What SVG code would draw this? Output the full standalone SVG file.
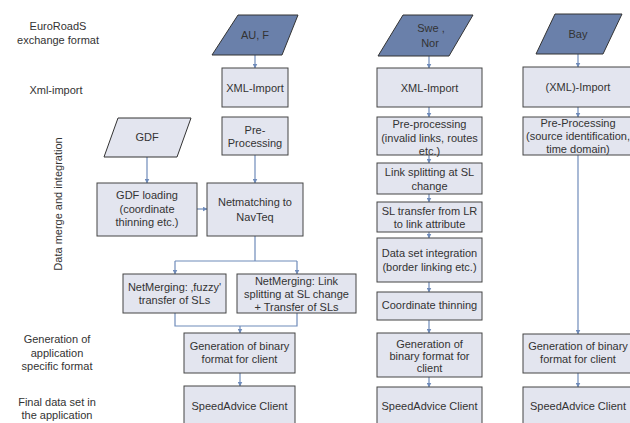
<svg xmlns="http://www.w3.org/2000/svg" width="630" height="423" viewBox="0 0 630 423">
<defs>
<marker id="ah" viewBox="0 0 10 10" refX="9" refY="5" markerWidth="5" markerHeight="5" orient="auto" markerUnits="userSpaceOnUse">
<path d="M0,0 L10,5 L0,10 z" fill="#6f8bba"/>
</marker>
<style>
text{font-family:"Liberation Sans",Arial,sans-serif;font-size:11px;fill:#333;text-anchor:middle;dominant-baseline:central}
.box{fill:#e3e5ef;stroke:#444;stroke-width:1}
.para{fill:#6a80aa;stroke:#333;stroke-width:1}
.lbl{fill:#333}
#connectors path,#connectors line{stroke:#6f8bba;stroke-width:1.2;fill:none}
.arr{marker-end:url(#ah)}
</style>
</defs>
<rect width="630" height="423" fill="#fff"/>

<g id="labels">
<text x="58" y="26">EuroRoadS</text>
<text x="58" y="40">exchange format</text>
<text x="56" y="90">Xml-import</text>
<text transform="translate(58,204) rotate(-90)">Data merge and integration</text>
<text x="57" y="339">Generation of</text>
<text x="57" y="353">application</text>
<text x="57" y="366">specific format</text>
<text x="57" y="402">Final data set in</text>
<text x="57" y="415">the application</text>
</g>

<g id="connectors">
<line class="arr" x1="255" y1="55" x2="255" y2="68"/>
<line class="arr" x1="255" y1="155" x2="255" y2="183"/>
<line class="arr" x1="147" y1="157" x2="147" y2="183"/>
<line class="arr" x1="197" y1="209" x2="207" y2="209"/>
<path d="M255,236 V261 M175,261 H297"/>
<line class="arr" x1="175" y1="261" x2="175" y2="274"/>
<line class="arr" x1="297" y1="261" x2="297" y2="274"/>
<path d="M175,313 V326 H297 V313"/>
<line class="arr" x1="240" y1="326" x2="240" y2="333"/>
<line class="arr" x1="240" y1="373" x2="240" y2="386"/>

<line class="arr" x1="429" y1="56" x2="429" y2="68"/>
<line class="arr" x1="429" y1="107" x2="429" y2="117"/>
<line class="arr" x1="429" y1="155" x2="429" y2="163"/>
<line class="arr" x1="429" y1="194" x2="429" y2="202"/>
<line class="arr" x1="429" y1="232" x2="429" y2="238"/>
<line class="arr" x1="429" y1="282" x2="429" y2="292"/>
<line class="arr" x1="429" y1="320" x2="429" y2="333"/>
<line class="arr" x1="429" y1="377" x2="429" y2="387"/>

<line class="arr" x1="578" y1="54" x2="578" y2="67"/>
<line class="arr" x1="578" y1="107" x2="578" y2="117"/>
<line class="arr" x1="578" y1="155" x2="578" y2="334"/>
<line class="arr" x1="578" y1="373" x2="578" y2="387"/>
</g>

<g id="n-auf"><polygon class="para" points="238,15 298,15 282,55 212,55"/><text x="255" y="35">AU, F</text></g>
<g id="n-xml1"><rect class="box" x="222" y="68" width="66" height="39"/><text x="255" y="88">XML-Import</text></g>
<g id="n-pre1"><rect class="box" x="222" y="117" width="66" height="38"/><text x="255" y="130">Pre-</text><text x="255" y="143">Processing</text></g>
<g id="n-gdf"><polygon class="para" style="fill:#e3e5ef" points="118,118 191,118 177,157 104,157"/><text x="147" y="137">GDF</text></g>
<g id="n-gdfload"><rect class="box" x="97" y="183" width="100" height="53"/><text x="147" y="195">GDF loading</text><text x="147" y="209">(coordinate</text><text x="147" y="222">thinning etc.)</text></g>
<g id="n-netmatch"><rect class="box" x="207" y="183" width="96" height="53"/><text x="255" y="202">Netmatching to</text><text x="255" y="217">NavTeq</text></g>
<g id="n-merge1"><rect class="box" x="123" y="274" width="103" height="39"/><text x="174.5" y="287">NetMerging: ‚fuzzy'</text><text x="174.5" y="300">transfer of SLs</text></g>
<g id="n-merge2"><rect class="box" x="237" y="274" width="119" height="39"/><text x="296.5" y="281">NetMerging: Link</text><text x="296.5" y="294">splitting at SL change</text><text x="296.5" y="307">+ Transfer of SLs</text></g>
<g id="n-gen1"><rect class="box" x="184" y="333" width="111" height="40"/><text x="239.5" y="346">Generation of binary</text><text x="239.5" y="359">format for client</text></g>
<g id="n-client1"><rect class="box" x="184" y="386" width="111" height="40"/><text x="239.5" y="406">SpeedAdvice Client</text></g>

<g id="n-swe"><polygon class="para" points="403,15 473,15 449,56 378,56"/><text x="431" y="28">Swe ,</text><text x="430" y="43">Nor</text></g>
<g id="n-xml2"><rect class="box" x="377" y="68" width="105" height="39"/><text x="429.5" y="88">XML-Import</text></g>
<g id="n-pre2"><rect class="box" x="377" y="117" width="105" height="38"/><text x="429.5" y="124">Pre-processing</text><text x="429.5" y="138">(invalid links, routes</text><text x="429.5" y="151">etc.)</text></g>
<g id="n-split"><rect class="box" x="377" y="163" width="105" height="31"/><text x="429.5" y="172">Link splitting at SL</text><text x="429.5" y="186">change</text></g>
<g id="n-sltrans"><rect class="box" x="377" y="202" width="105" height="30"/><text x="429.5" y="211">SL transfer from LR</text><text x="429.5" y="224">to link attribute</text></g>
<g id="n-integ"><rect class="box" x="377" y="238" width="105" height="44"/><text x="429.5" y="253">Data set integration</text><text x="429.5" y="267">(border linking etc.)</text></g>
<g id="n-thin"><rect class="box" x="377" y="292" width="105" height="28"/><text x="429.5" y="305">Coordinate thinning</text></g>
<g id="n-gen2"><rect class="box" x="377" y="333" width="105" height="44"/><text x="429.5" y="344">Generation of</text><text x="429.5" y="356">binary format for</text><text x="429.5" y="368">client</text></g>
<g id="n-client2"><rect class="box" x="377" y="387" width="105" height="40"/><text x="429.5" y="406">SpeedAdvice Client</text></g>

<g id="n-bay"><polygon class="para" points="555,14 622,14 603,54 536,54"/><text x="578" y="34">Bay</text></g>
<g id="n-xml3"><rect class="box" x="523" y="67" width="112" height="40"/><text x="578" y="87">(XML)-Import</text></g>
<g id="n-pre3"><rect class="box" x="523" y="117" width="112" height="38"/><text x="578" y="123">Pre-Processing</text><text x="578" y="136">(source identification,</text><text x="578" y="149">time domain)</text></g>
<g id="n-gen3"><rect class="box" x="523" y="334" width="112" height="39"/><text x="578" y="346">Generation of binary</text><text x="578" y="359">format for client</text></g>
<g id="n-client3"><rect class="box" x="523" y="387" width="112" height="40"/><text x="578" y="406">SpeedAdvice Client</text></g>
</svg>
